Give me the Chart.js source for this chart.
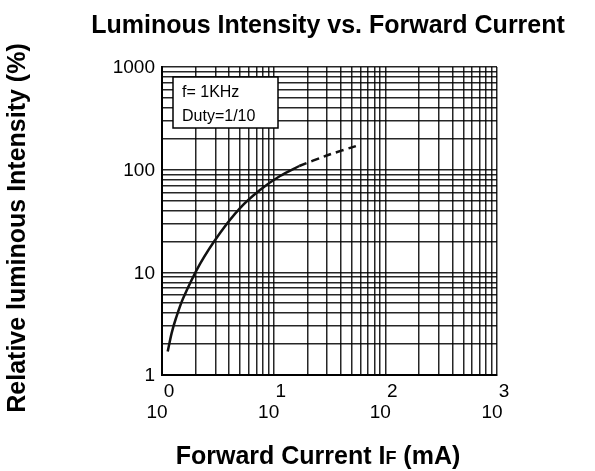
<!DOCTYPE html>
<html>
<head>
<meta charset="utf-8">
<script src="https://cdn.jsdelivr.net/npm/chart.js@4/dist/chart.umd.min.js"></script>
<style>
  html, body { margin: 0; padding: 0; background: #fff; }
  #wrap { width: 595px; height: 471px; }
</style>
</head>
<body>
<div id="wrap"><canvas id="ivChart" width="595" height="471"></canvas></div>
<script>
// forward current (mA) vs relative luminous intensity (%)
const solidCurrent = [1.125, 1.22, 1.335, 1.55, 2.19, 3.31, 5.0, 7.54, 11.4, 16.96];
const solidIntensity = [1.69, 2.56, 3.59, 5.62, 12.1, 24.2, 42.3, 63.4, 86.7, 108.6];
const dashCurrent = [16.96, 29.85, 54.6];
const dashIntensity = [108.6, 137.4, 169.9];

const gridValues = [1, 2, 3, 4, 5, 6, 7, 8, 9,
  10, 20, 30, 40, 50, 60, 70, 80, 90,
  100, 200, 300, 400, 500, 600, 700, 800, 900, 1000];
const yLabels = [1, 10, 100, 1000];
const xDecades = [1, 10, 100, 1000];
const xExponents = ["0", "1", "2", "3"];
const legendLines = ["f= 1KHz", "Duty=1/10"];

const FONT = '"Liberation Sans", Arial, sans-serif';

function toPoints(xs, ys) {
  return xs.map((x, i) => ({ x: x, y: ys[i] }));
}

function setGrid(scale) {
  scale.ticks = gridValues.map(v => ({ value: v }));
}

const labelsPlugin = {
  id: "labels",
  afterDatasetsDraw(chart) {
    const ctx = chart.ctx;
    const area = chart.chartArea;

    // legend box (f / duty)
    ctx.save();
    const bx = area.left + 11, by = area.top + 10;
    ctx.fillStyle = "#fff";
    ctx.fillRect(bx, by, 105, 51);
    ctx.strokeStyle = "#000";
    ctx.lineWidth = 1.5;
    ctx.strokeRect(bx, by, 105, 51);
    ctx.fillStyle = "#000";
    ctx.font = "16px " + FONT;
    ctx.textAlign = "left";
    ctx.textBaseline = "alphabetic";
    ctx.fillText(legendLines[0], bx + 9, by + 20);
    ctx.fillText(legendLines[1], bx + 9, by + 44);
    ctx.restore();
  },
  afterDraw(chart) {
    const ctx = chart.ctx;
    const area = chart.chartArea;
    const xs = chart.scales.x;
    const ys = chart.scales.y;
    ctx.save();
    ctx.fillStyle = "#000";

    // y tick labels
    ctx.font = "19px " + FONT;
    ctx.textAlign = "right";
    ctx.textBaseline = "middle";
    yLabels.forEach(v => {
      ctx.fillText(String(v), area.left - 7, ys.getPixelForValue(v) + 1);
    });

    // x tick labels as 10 with exponent
    ctx.textAlign = "center";
    ctx.textBaseline = "alphabetic";
    xDecades.forEach((v, i) => {
      const px = xs.getPixelForValue(v);
      ctx.fillText("10", px - 5, 418);
      ctx.fillText(xExponents[i], px + 7, 397);
    });

    // title
    ctx.font = "bold 25px " + FONT;
    ctx.textAlign = "center";
    ctx.fillText("Luminous Intensity vs. Forward Current", 328, 33);

    // x title with small F
    const big = "bold 25px " + FONT, small = "bold 18px " + FONT;
    const p1 = "Forward Current I", p2 = "F", p3 = " (mA)";
    ctx.font = big;
    const w1 = ctx.measureText(p1).width, w3 = ctx.measureText(p3).width;
    ctx.font = small;
    const w2 = ctx.measureText(p2).width;
    let tx = 318 - (w1 + w2 + w3) / 2;
    ctx.textAlign = "left";
    ctx.font = big;
    ctx.fillText(p1, tx, 464);
    ctx.font = small;
    ctx.fillText(p2, tx + w1, 464);
    ctx.font = big;
    ctx.fillText(p3, tx + w1 + w2, 464);

    // y title
    ctx.translate(25, 228);
    ctx.rotate(-Math.PI / 2);
    ctx.textAlign = "center";
    ctx.font = big;
    ctx.fillText("Relative luminous Intensity (%)", 0, 0);
    ctx.restore();
  }
};

new Chart(document.getElementById("ivChart"), {
  type: "line",
  data: {
    datasets: [
      {
        data: toPoints(solidCurrent, solidIntensity),
        borderColor: "#111",
        borderWidth: 2.5,
        pointRadius: 0,
        tension: 0.3,
        fill: false
      },
      {
        data: toPoints(dashCurrent, dashIntensity),
        borderColor: "#111",
        borderWidth: 2.5,
        borderDash: [8, 5],
        pointRadius: 0,
        tension: 0.3,
        fill: false
      }
    ]
  },
  options: {
    responsive: false,
    animation: false,
    devicePixelRatio: 1,
    layout: { padding: { left: 162, right: 98, top: 67, bottom: 96 } },
    scales: {
      x: {
        type: "logarithmic",
        min: 1,
        max: 1000,
        afterBuildTicks: setGrid,
        afterFit: s => { s.height = 0; },
        ticks: { display: false },
        grid: { color: "rgba(0,0,0,0.85)", lineWidth: 1.5, drawTicks: false },
        border: { color: "#000", width: 2 }
      },
      y: {
        type: "logarithmic",
        min: 1,
        max: 1000,
        afterBuildTicks: setGrid,
        afterFit: s => { s.width = 0; },
        ticks: { display: false },
        grid: { color: "rgba(0,0,0,0.85)", lineWidth: 1.5, drawTicks: false },
        border: { color: "#000", width: 2 }
      }
    },
    plugins: {
      legend: { display: false },
      tooltip: { enabled: false },
      title: { display: false }
    }
  },
  plugins: [labelsPlugin]
});
</script>
</body>
</html>
